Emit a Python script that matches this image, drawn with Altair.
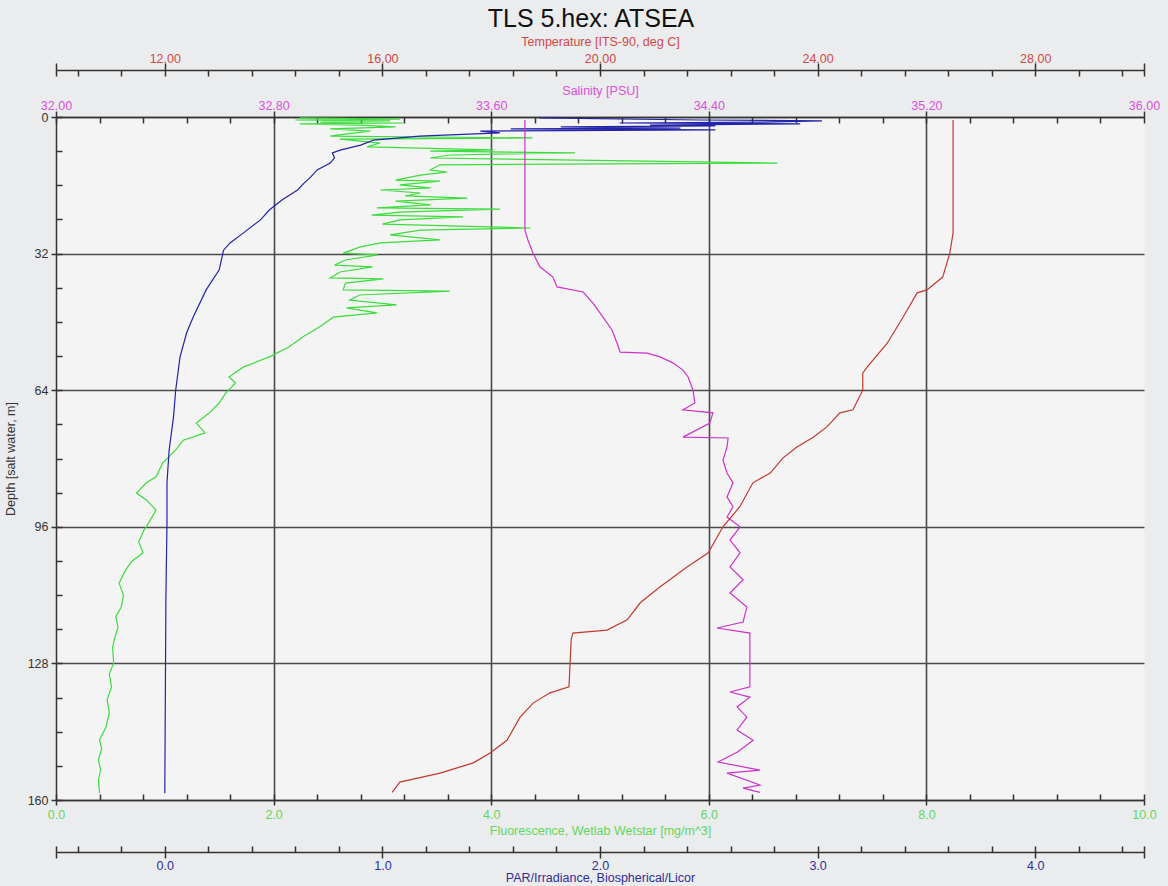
import altair as alt
import pandas as pd

# ---- CTD cast profiles (depth in m, value in sensor units) ----
temp_depth = [0.7, 18.7, 27.2, 31.9, 37.5, 40.5, 41.2, 46.9, 53.0, 58.6, 60.0, 64.0, 68.6, 69.3,
              72.6, 75.0, 77.3, 79.9, 83.4, 85.7, 91.3, 96.0, 102.1, 105.4, 110.1, 113.8, 117.8,
              120.2, 120.9, 122.5, 133.5, 134.9, 137.3, 140.6, 146.0, 149.0, 151.3, 153.7, 155.8, 158.2]
temp_value = [26.49, 26.49, 26.49, 26.43, 26.30, 26.01, 25.83, 25.57, 25.28, 24.91, 24.83, 24.83,
              24.65, 24.41, 24.17, 23.92, 23.62, 23.36, 23.13, 22.81, 22.57, 22.26, 21.99, 21.60,
              21.10, 20.74, 20.50, 20.13, 19.50, 19.47, 19.43, 19.08, 18.77, 18.53, 18.29, 17.98,
              17.67, 17.06, 16.32, 16.18]

sal_depth = [0.7, 26.5, 28.8, 31.9, 35.1, 37.5, 39.8, 41.0, 43.6, 46.9, 49.9, 53.0, 55.1, 55.3,
             56.2, 57.6, 59.3, 60.9, 64.0, 67.0, 68.6, 69.3, 71.7, 75.0, 75.2, 77.3, 80.4, 83.4,
             85.7, 89.0, 91.3, 93.7, 96.0, 99.1, 102.1, 105.4, 108.4, 111.5, 114.8, 118.3, 119.7,
             120.9, 133.5, 134.7, 135.9, 138.2, 140.6, 143.6, 146.0, 148.8, 151.1, 153.0, 153.7,
             156.5, 157.2, 158.2]
sal_value = [33.724, 33.724, 33.735, 33.754, 33.779, 33.827, 33.842, 33.938, 33.974, 34.011,
             34.044, 34.063, 34.074, 34.173, 34.221, 34.268, 34.305, 34.324, 34.342, 34.349,
             34.305, 34.415, 34.404, 34.305, 34.471, 34.467, 34.452, 34.467, 34.489, 34.467,
             34.489, 34.467, 34.515, 34.478, 34.515, 34.478, 34.526, 34.478, 34.540, 34.526,
             34.430, 34.551, 34.551, 34.478, 34.551, 34.504, 34.540, 34.504, 34.563, 34.504,
             34.434, 34.588, 34.467, 34.588, 34.526, 34.588]

fl_depth = [0.2, 0.5, 0.7, 0.9, 1.2, 1.4, 1.6, 1.9, 2.3, 2.8, 3.3, 4.0, 4.5, 4.9, 5.2, 6.1, 7.0,
            7.7, 8.0, 8.4, 8.9, 9.6, 10.8, 11.2, 12.4, 12.9, 13.6, 14.8, 15.0, 15.9, 16.6, 17.1,
            17.8, 18.5, 19.0, 19.7, 20.6, 21.3, 21.6, 22.3, 23.0, 23.4, 24.1, 25.1, 26.0, 26.5,
            27.6, 28.8, 29.5, 30.5, 31.9, 32.3, 33.5, 34.7, 35.1, 36.3, 37.7, 37.9, 38.9, 40.5,
            40.8, 41.7, 42.9, 44.0, 44.7, 45.9, 46.9, 49.2, 51.5, 53.9, 56.2, 58.6, 60.9, 62.3,
            64.7, 67.0, 69.3, 71.7, 74.0, 75.7, 78.0, 81.1, 84.3, 85.7, 88.1, 89.7, 92.1, 96.0,
            96.7, 99.5, 102.1, 104.0, 106.1, 109.2, 112.0, 114.8, 117.0, 119.5, 122.0, 124.2,
            127.9, 130.5, 133.5, 136.5, 139.6, 142.9, 145.9, 148.0, 150.6, 153.0, 155.3, 158.4]
fl_value = [2.24, 3.16, 2.20, 3.07, 2.43, 3.19, 2.24, 2.79, 3.12, 2.52, 2.89, 2.66, 2.52, 4.38,
            2.61, 2.98, 2.86, 4.02, 3.44, 4.77, 3.62, 3.44, 6.63, 3.53, 3.44, 3.59, 3.35, 3.12,
            3.53, 3.16, 3.44, 2.98, 3.35, 3.21, 3.78, 3.12, 3.44, 2.95, 4.08, 3.16, 2.90, 3.74,
            3.16, 3.00, 4.36, 3.35, 3.07, 3.53, 2.98, 2.79, 2.64, 2.96, 2.66, 2.56, 2.91, 2.61,
            2.52, 3.01, 2.66, 2.64, 3.62, 2.79, 2.70, 3.13, 2.67, 2.95, 2.55, 2.42, 2.27, 2.14,
            1.96, 1.72, 1.59, 1.65, 1.56, 1.50, 1.41, 1.29, 1.37, 1.17, 1.10, 0.98, 0.92, 0.83,
            0.74, 0.83, 0.92, 0.83, 0.81, 0.76, 0.80, 0.70, 0.64, 0.58, 0.62, 0.60, 0.55, 0.57,
            0.54, 0.52, 0.53, 0.49, 0.51, 0.47, 0.49, 0.46, 0.40, 0.42, 0.39, 0.41, 0.39, 0.40]

par_depth = [0.2, 0.7, 0.9, 1.2, 1.4, 1.6, 1.9, 2.1, 2.3, 2.6, 2.8, 3.0, 3.3, 3.7, 4.5, 5.4, 6.6,
             7.7, 8.4, 9.6, 10.8, 12.4, 14.1, 15.5, 17.1, 19.4, 21.8, 24.1, 27.2, 29.5, 31.2, 35.8,
             40.5, 46.9, 50.6, 56.2, 64.0, 70.3, 78.0, 85.7, 95.1, 113.1, 158.4]
par_value = [1.72, 2.46, 3.02, 2.74, 2.09, 2.92, 2.23, 2.53, 1.82, 2.37, 1.59, 2.53, 1.45, 1.54,
             1.17, 0.96, 0.90, 0.81, 0.77, 0.78, 0.76, 0.70, 0.67, 0.64, 0.61, 0.54, 0.48, 0.44,
             0.36, 0.30, 0.27, 0.25, 0.19, 0.13, 0.10, 0.07, 0.05, 0.04, 0.02, 0.01, 0.01, 0.005, 0.0]

# ---- axis tick positions ----
temp_major = [10, 12, 16, 20, 24, 28, 30]
temp_minor = [10, 10.4] + [round(11.2 + 0.8 * k, 2) for k in range(24)] + [30]
sal_major = [32.0, 32.8, 33.6, 34.4, 35.2, 36.0]
sal_minor = [round(32 + 0.16 * k, 2) for k in range(26)]
fl_major = [0, 2, 4, 6, 8, 10]
fl_minor = [round(0.4 * k, 2) for k in range(26)]
fl_grid = [2, 4, 6, 8]
par_major = [-0.5, 0, 1, 2, 3, 4, 4.5]
par_minor = [-0.5, -0.4] + [round(-0.2 + 0.2 * k, 2) for k in range(24)] + [4.5]
depth_major = [0, 32, 64, 96, 128, 160]
depth_minor = list(range(0, 161, 8))

FONT = "Liberation Sans"
INK = "#333333"
GRID = "#4a4a4a"
RED_TXT, RED_LINE = "#d24848", "#c23a2e"
MAG_TXT, MAG_LINE = "#dd4fdd", "#cc33cc"
GRN_TXT, GRN_LINE = "#5fd85f", "#3ddc3d"
BLU_TXT, BLU_LINE = "#2e2e9a", "#2323a8"


def frame(depth, value):
    return pd.DataFrame({"depth": depth, "value": value, "i": range(len(depth))})


temp_df = frame(temp_depth, temp_value)
sal_df = frame(sal_depth, sal_value)
fl_df = frame(fl_depth, fl_value)
par_df = frame(par_depth, par_value)

y_scale = alt.Scale(domain=[0, 160], reverse=True, nice=False, zero=False)

common_axis = dict(labelFont=FONT, titleFont=FONT, labelFontSize=12.5, titleFontSize=12.5,
                   titleFontWeight="normal", domainColor=INK, tickColor=INK, domainWidth=1.5,
                   tickWidth=1.5, labelOverlap=False, labelFlush=False, labelBound=False)

y_main = alt.Axis(orient="left", values=depth_major, tickSize=5, labelPadding=3, labelColor=INK,
                  title="Depth [salt water, m]", titleColor=INK, titlePadding=10, grid=True,
                  gridColor=GRID, gridWidth=1.6, **common_axis)
y_minor = alt.Axis(orient="left", offset=-6, values=depth_minor, tickSize=6, tickColor=INK,
                   tickWidth=1.5, domain=False, labels=False, title=None, grid=False)


def curve(df, domain, color, axis, yaxis=None, opacity=1.0):
    return alt.Chart(df).mark_line(color=color, strokeWidth=1.2, opacity=opacity).encode(
        x=alt.X("value:Q", scale=alt.Scale(domain=domain, nice=False, zero=False), axis=axis),
        y=alt.Y("depth:Q", scale=y_scale, axis=yaxis),
        order=alt.Order("i:Q"),
    )


def minor_axis(orient, offset, values):
    return alt.Axis(orient=orient, offset=offset, values=values, tickSize=6, tickColor=INK,
                    tickWidth=1.5, domain=False, labels=False, title=None, grid=False)


temp_axis = alt.Axis(orient="top", offset=47, values=temp_major, format=".2f",
                     labelExpr="datum.value < 11 || datum.value > 29 ? '' : datum.label",
                     tickSize=7, labelPadding=1, labelBaseline="alphabetic", labelColor=RED_TXT,
                     title="Temperature [ITS-90, deg C]", titleColor=RED_TXT,
                     titleBaseline="alphabetic", titleY=-25, grid=False, **common_axis)
sal_axis = alt.Axis(orient="top", offset=0, values=sal_major, format=".2f", tickSize=6,
                    labelPadding=2, labelBaseline="alphabetic", labelColor=MAG_TXT,
                    title="Salinity [PSU]", titleColor=MAG_TXT, titlePadding=2, grid=False,
                    **common_axis)
fl_axis = alt.Axis(orient="bottom", offset=0, values=fl_major, format=".1f", tickSize=5,
                   labelPadding=3, labelColor=GRN_TXT,
                   title="Fluorescence, Wetlab Wetstar [mg/m^3]", titleColor=GRN_TXT,
                   titlePadding=4, grid=False, **common_axis)
par_axis = alt.Axis(orient="bottom", offset=52, values=par_major, format=".1f",
                    labelExpr="datum.value < -0.1 || datum.value > 4.1 ? '' : datum.label",
                    tickSize=6, labelPadding=1, labelColor=BLU_TXT,
                    title="PAR/Irradiance, Biospherical/Licor", titleColor=BLU_TXT,
                    titlePadding=0, grid=False, **common_axis)
grid_axis = alt.Axis(orient="bottom", values=fl_grid, grid=True, gridColor=GRID, gridWidth=1.6,
                     ticks=False, labels=False, domain=False, title=None)

layers = [
    curve(fl_df, [0, 10], GRN_LINE, grid_axis, opacity=0),
    curve(temp_df, [10, 30], RED_LINE, minor_axis("top", 41, temp_minor), yaxis=y_minor, opacity=0),
    curve(sal_df, [32, 36], MAG_LINE, minor_axis("top", -6, sal_minor), opacity=0),
    curve(fl_df, [0, 10], GRN_LINE, minor_axis("bottom", -6, fl_minor), opacity=0),
    curve(par_df, [-0.5, 4.5], BLU_LINE, minor_axis("bottom", 46, par_minor), opacity=0),
    curve(fl_df, [0, 10], GRN_LINE, fl_axis),
    curve(par_df, [-0.5, 4.5], BLU_LINE, par_axis),
    curve(sal_df, [32, 36], MAG_LINE, sal_axis, yaxis=y_main),
    curve(temp_df, [10, 30], RED_LINE, temp_axis),
]

chart = (
    alt.layer(*layers)
    .resolve_scale(x="independent")
    .resolve_axis(x="independent", y="independent")
    .properties(
        width=1088,
        height=683,
        autosize="none",
        padding={"left": 56, "top": 117, "right": 24, "bottom": 86},
        background="#ebeced",
        title=alt.TitleParams("TLS 5.hex: ATSEA", font=FONT, fontSize=25,
                              fontWeight="normal", color="#111111", anchor="middle",
                              frame="group", offset=3, dx=-9),
    )
    .configure_view(fill="#f4f4f4", stroke="transparent")
)

chart.save("out.html", embed_options={"renderer": "svg", "actions": False})
